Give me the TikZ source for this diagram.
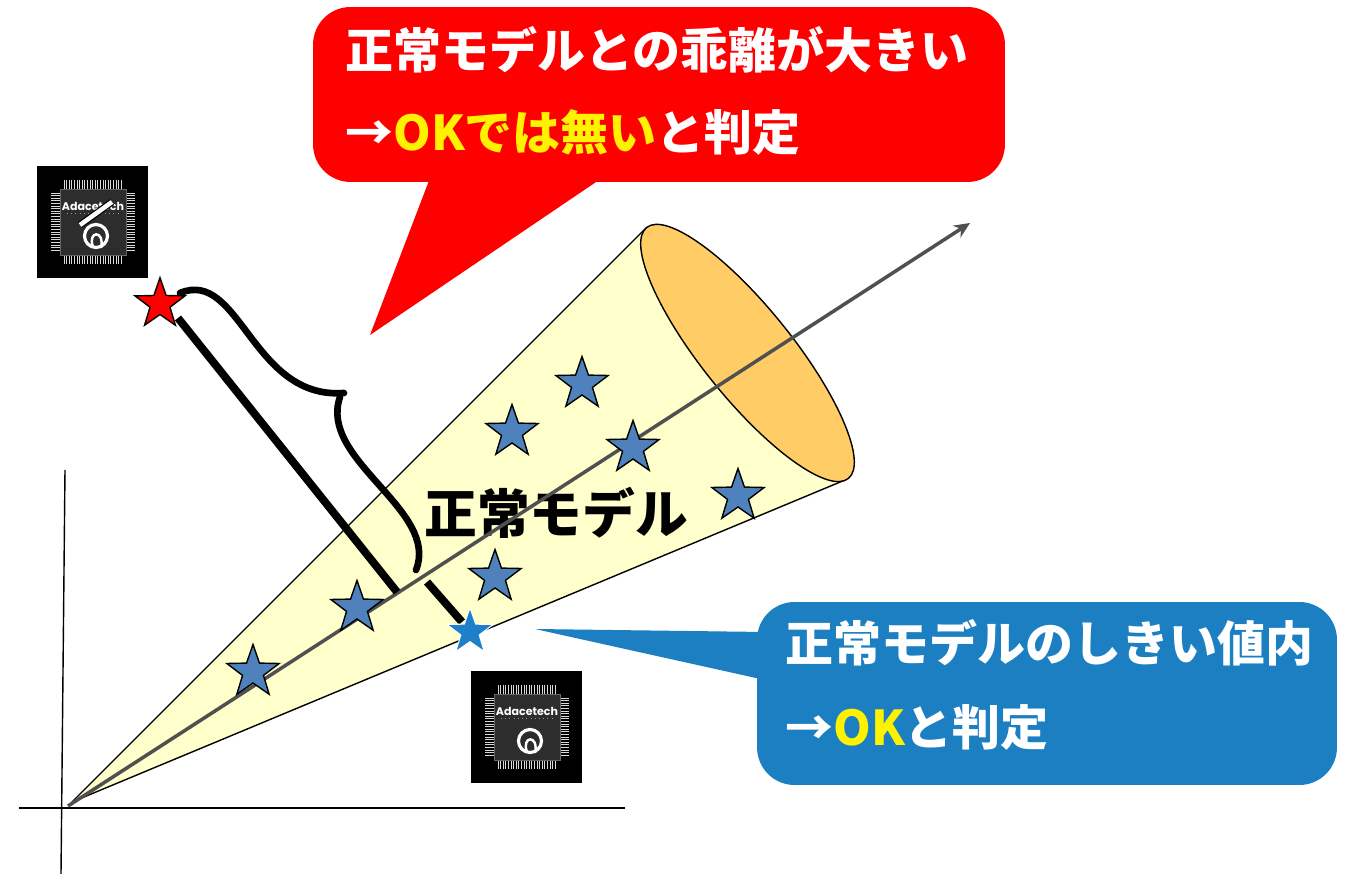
\documentclass[tikz,border=0pt]{standalone}
\usepackage{fontspec}
\usepackage{xcolor}
\usetikzlibrary{shapes.geometric,arrows.meta}
\newfontfamily\jpfont{Noto Sans CJK JP}
\newfontfamily\logofont{Poppins}
\definecolor{conefill}{RGB}{255,255,204}
\definecolor{coneend}{RGB}{255,204,102}
\definecolor{starblue}{RGB}{79,129,189}
\definecolor{okblue}{RGB}{27,127,194}
\definecolor{okstar}{RGB}{30,128,200}
\definecolor{ngred}{RGB}{255,0,0}
\definecolor{axisgray}{RGB}{80,80,80}
\definecolor{chipbody}{RGB}{45,45,45}
\tikzstyle{bluestar}=[star, star points=5, star point ratio=2.5, minimum size=1.1cm, inner sep=0pt, fill=starblue, draw=black, line width=0.8pt]
\tikzstyle{redstar}=[bluestar, fill=ngred, minimum size=1.05cm]
\tikzstyle{okstar}=[bluestar, fill=okstar, draw=white, line width=0.6pt, minimum size=0.97cm]
\tikzset{callout/.style={rounded corners=0.75cm, inner sep=0pt}}
\tikzset{msg/.style={anchor=west, inner sep=0pt, text=white, font=\jpfont\bfseries\fontsize{27.3}{32}\selectfont}}
\tikzset{pin/.style={white!85!black, line width=0.5pt}}
% chip icon: #1 top left corner, #2 node name
\newcommand{\chipicon}[2]{%
  \begin{scope}[shift={#1}]
    \fill[black] (0,0) rectangle (111,112);
    \foreach \i in {0,...,22} {
      \draw[pin] (27+2.6*\i,14) -- ++(0,9);
      \draw[pin] (27+2.6*\i,89) -- ++(0,9);
      \draw[pin] (14,27+2.6*\i) -- ++(9,0);
      \draw[pin] (89,27+2.6*\i) -- ++(9,0);
    }
    \fill[chipbody] (23,23) rectangle (89,89);
    \draw[white!40!black, line width=0.5pt] (23,23) rectangle (89,89);
    \node[text=white, inner sep=0pt, font=\logofont\bfseries\fontsize{6.3}{6}\selectfont] (#2) at (56,40) {Adacetech};
    \draw[white!60!black, line width=0.4pt, dotted] (30,47) -- (82,47);
    \draw[white, line width=1.8pt] (59,70) circle (11.5);
    \draw[white, line width=1.4pt] (56,81) .. controls (50,65) and (68,63) .. (64,82);
  \end{scope}}

\begin{document}
\begin{tikzpicture}[x=0.02cm, y=-0.02cm]
  \useasboundingbox (0,0) rectangle (1350,874);

  %% axes
  \draw[line width=0.8pt] (65,470) -- (61,874);
  \draw[line width=1pt] (19,808) -- (625,808);

  %% cone of the normal model
  \coordinate (apex) at (72,802);
  \coordinate (coneT) at (646,228);
  \coordinate (coneB) at (845,480);
  \coordinate (coneC) at (747.5,353);
  \fill[conefill] (apex) -- (coneT) -- (coneB) -- cycle;
  \draw[line width=0.8pt] (apex) -- (coneT);
  \draw[line width=0.8pt] (apex) -- (coneB);
  \draw[line width=0.8pt, fill=coneend, rotate around={-51.2:(coneC)}] (coneC) ellipse [x radius=161, y radius=45];

  \node[anchor=west, inner sep=0pt, font=\jpfont\bfseries\fontsize{30}{34}\selectfont] (model) at (424,513) {正常モデル};

  %% main direction
  \coordinate (origin) at (68,806);
  \coordinate (dirend) at (970,223);
  \draw[-{Stealth[length=9pt,width=8pt]}, axisgray, line width=2pt] (origin) -- (dirend);

  %% distance to the outlier
  \draw[line width=4.5pt] (178,318) -- (397,592);
  \draw[line width=4.5pt] (427,582) -- (462,622);
  \draw[line width=3.8pt, line cap=round] (180,293) .. controls (240,268) and (252,400) .. (344,393);
  \draw[line width=3.8pt, line cap=round] (340,397) .. controls (318,460) and (440,510) .. (416,570);

  %% samples
  \draw (582,384) node[bluestar] (S1) {};
  \draw (512,432) node[bluestar] (S2) {};
  \draw (633,448) node[bluestar] (S3) {};
  \draw (738,496) node[bluestar] (S4) {};
  \draw (495,577) node[bluestar] (S5) {};
  \draw (357,608) node[bluestar] (S6) {};
  \draw (253,672) node[bluestar] (S7) {};
  \draw (470,632) node[okstar] (Sok) {};
  \draw (160,304) node[redstar] (Sng) {};

  %% NG message
  \node[callout, fill=ngred, minimum width=13.84cm, minimum height=3.5cm] (ngbox) at (659,94.5) {};
  \fill[ngred] (430,178) -- (370,335) -- (602,178) -- cycle;
  \node[msg] (ng1) at (345,50) {正常モデルとの乖離が大きい};
  \node[msg] (ng2) at (345,132) {→\textcolor{yellow}{OKでは無い}と判定};

  %% OK message
  \node[callout, fill=okblue, minimum width=11.6cm, minimum height=3.66cm] (okbox) at (1047,693.5) {};
  \fill[okblue] (535,629) -- (765,632) -- (765,680) -- cycle;
  \node[msg] (ok1) at (785,643) {正常モデルのしきい値内};
  \node[msg] (ok2) at (785,727) {→\textcolor{yellow}{OK}と判定};

  %% chips
  \chipicon{(37,166)}{chipA}
  \draw[black, line width=4pt] (80,225) -- (112,202);
  \draw[white, line width=2.6pt] (80,225) -- (112,202);
  \chipicon{(471,671)}{chipB}
\end{tikzpicture}
\end{document}
